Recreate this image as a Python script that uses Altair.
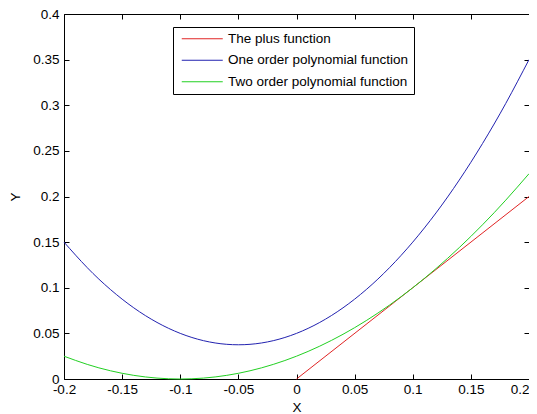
import altair as alt
import pandas as pd

# ---- data ----
x_vals = [-0.2, -0.18, -0.16, -0.14, -0.12, -0.1, -0.08, -0.06, -0.04, -0.02, 0.0,
          0.02, 0.04, 0.06, 0.08, 0.1, 0.12, 0.14, 0.16, 0.18, 0.2]
one_order = [0.15, 0.122, 0.098, 0.078, 0.062, 0.05, 0.042, 0.038, 0.038, 0.042, 0.05,
             0.062, 0.078, 0.098, 0.122, 0.15, 0.182, 0.218, 0.258, 0.302, 0.35]
two_order = [0.025, 0.016, 0.009, 0.004, 0.001, 0.0, 0.001, 0.004, 0.009, 0.016, 0.025,
             0.036, 0.049, 0.064, 0.081, 0.1, 0.121, 0.144, 0.169, 0.196, 0.225]
plus_x = [0.0, 0.1, 0.2]
plus_y = [0.0, 0.1, 0.2]

series_names = ["The plus function", "One order polynomial function", "Two order polynomial function"]
series_colors = ["#e02424", "#2222b0", "#22d022"]

x_ticks = [-0.2, -0.15, -0.1, -0.05, 0, 0.05, 0.1, 0.15, 0.2]
y_ticks = [0, 0.05, 0.1, 0.15, 0.2, 0.25, 0.3, 0.35, 0.4]

rows = []
for xv, yv in zip(plus_x, plus_y):
    rows.append({"x": xv, "y": yv, "series": series_names[0]})
for xv, yv in zip(x_vals, one_order):
    rows.append({"x": xv, "y": yv, "series": series_names[1]})
for xv, yv in zip(x_vals, two_order):
    rows.append({"x": xv, "y": yv, "series": series_names[2]})
df = pd.DataFrame(rows)

FONT = "Liberation Sans"
common = dict(grid=False, domain=False, tickSize=5, offset=-5, tickColor="black",
              tickWidth=1, labelFont=FONT, labelFontSize=13.5, labelColor="black",
              titleFont=FONT, titleFontSize=13.5, titleFontWeight="normal",
              titleColor="black", labelOverlap=False, labelFlush=False)

x_scale = alt.Scale(domain=[-0.2, 0.2], nice=False)
y_scale = alt.Scale(domain=[0, 0.4], nice=False)

x_bottom = alt.Axis(orient="bottom", values=x_ticks, labelExpr="'' + datum.value",
                    labelAlign={"expr": "datum.value >= 0.2 ? 'right' : 'center'"},
                    labelPadding=3, title="X", titlePadding=5, **common)
y_left = alt.Axis(orient="left", values=y_ticks, labelExpr="'' + datum.value",
                  labelPadding=5, title="Y", titlePadding=10, **common)
x_top = alt.Axis(orient="top", values=x_ticks, labels=False, title=None, **common)
y_right = alt.Axis(orient="right", values=y_ticks, labels=False, title=None, **common)

lines = alt.Chart(df).mark_line(strokeWidth=1, interpolate="natural").encode(
    x=alt.X("x:Q", scale=x_scale, axis=x_bottom),
    y=alt.Y("y:Q", scale=y_scale, axis=y_left),
    color=alt.Color("series:N",
                    scale=alt.Scale(domain=series_names, range=series_colors),
                    legend=alt.Legend(orient="none", legendX=109, legendY=13, title=None,
                                      fillColor="white", strokeColor="black", padding=5,
                                      symbolType="M-10,0H10", symbolSize=16.81,
                                      symbolStrokeWidth=1, symbolOffset=17.5,
                                      labelFont=FONT, labelFontSize=13.5,
                                      labelColor="black", labelLimit=400,
                                      labelOffset=19, rowPadding=6.5, cornerRadius=0)),
)

frame = alt.Chart(df).mark_point(opacity=0).encode(
    x=alt.X("x:Q", scale=x_scale, axis=x_top),
    y=alt.Y("y:Q", scale=y_scale, axis=y_right),
)

chart = alt.layer(lines, frame).resolve_axis(x="independent", y="independent").properties(
    width=465, height=365,
    padding={"left": 56, "top": 6, "right": 0, "bottom": 35},
    autosize=alt.AutoSizeParams(type="none"),
    background="white",
).configure_view(stroke="black", strokeWidth=1)

chart.save("out.html", embed_options={"renderer": "svg", "actions": False})
